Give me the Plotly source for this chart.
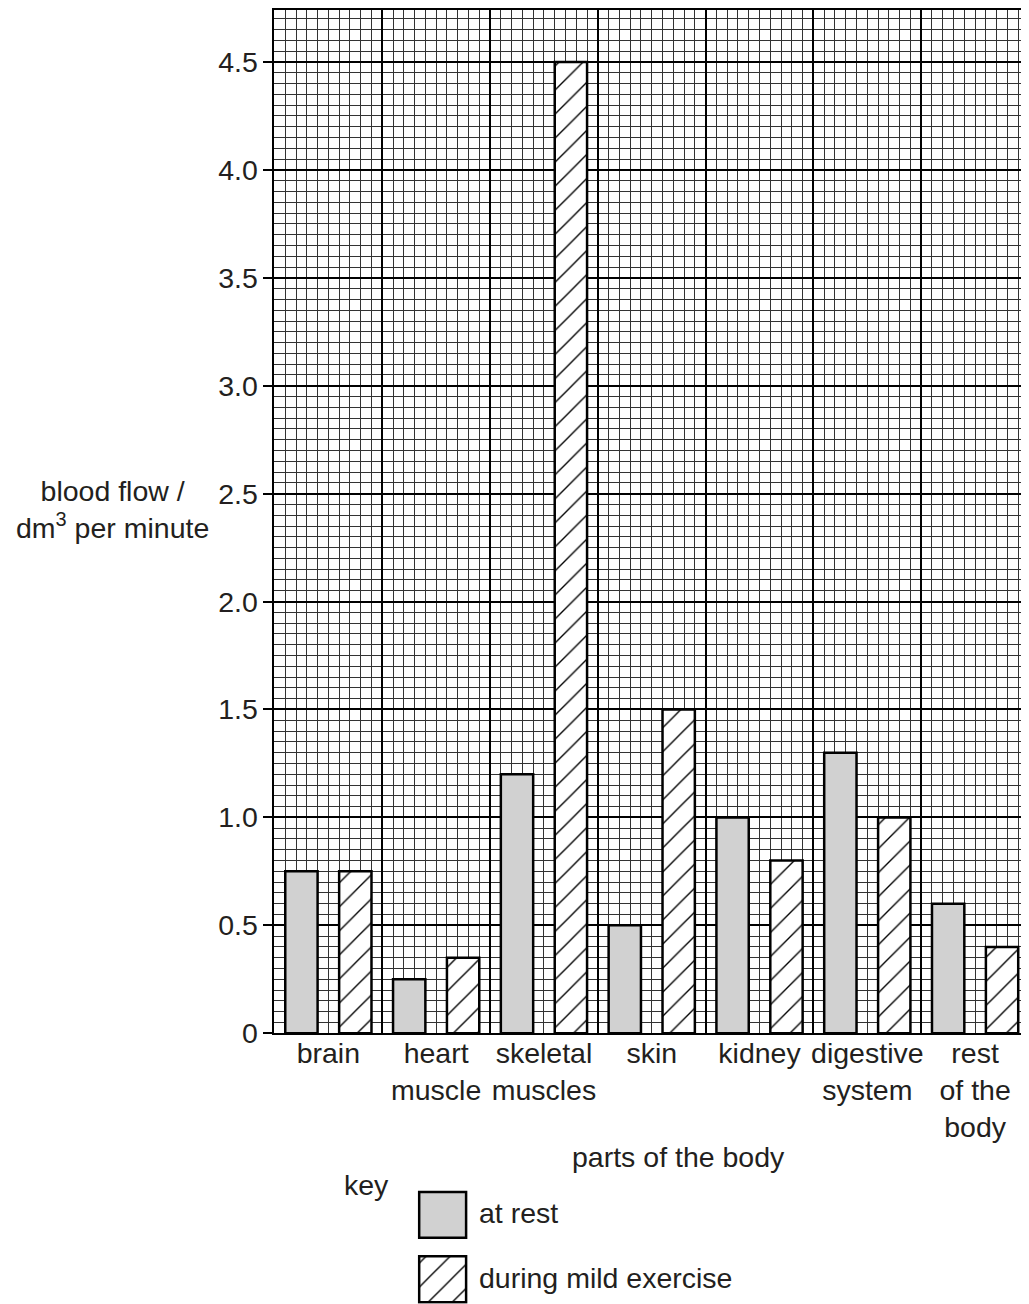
import numpy as np
import plotly.graph_objects as go

# ---- data ----
categories = ["brain", "heart<br>muscle", "skeletal<br>muscles", "skin",
              "kidney", "digestive<br>system", "rest<br>of the<br>body"]
at_rest = [0.75, 0.25, 1.2, 0.5, 1.0, 1.3, 0.6]
mild_exercise = [0.75, 0.35, 4.5, 1.5, 0.8, 1.0, 0.4]
series_names = ["at rest", "during mild exercise"]

# page placement of the figure inside the photographed window
OX, OY, SY = 6, 8, 0.988
W, H = 1023, 1312
FONT = dict(family="Liberation Sans, Arial, Helvetica, sans-serif", size=28.5, color="#231f20")
GRAY = "#d1d1d1"
HATCH = dict(shape="/", size=17, solidity=0.08, fgcolor="black",
             bgcolor="white", fillmode="replace")


def px_x(p):
    return min(1.0, max(0.0, (p - OX) / W))


def px_y(p):
    return min(1.0, max(0.0, 1 - ((p - OY) / SY) / H))


idx = np.arange(len(categories))
fig = go.Figure()

fig.add_trace(go.Bar(
    x=idx + 0.25, y=at_rest, width=0.3, name=series_names[0],
    marker=dict(color=GRAY, line=dict(color="black", width=2.5)),
    xaxis="x", yaxis="y", showlegend=False, hoverinfo="skip"))
fig.add_trace(go.Bar(
    x=idx + 0.75, y=mild_exercise, width=0.3, name=series_names[1],
    marker=dict(color="white", line=dict(color="black", width=2.5), pattern=HATCH),
    xaxis="x2", yaxis="y", showlegend=False, hoverinfo="skip"))

# key (legend) drawn as a small bar subplot
fig.add_trace(go.Bar(
    y=[1], x=[1], orientation="h", width=0.713,
    marker=dict(color=GRAY, line=dict(color="black", width=2.5)),
    xaxis="x3", yaxis="y3", showlegend=False, hoverinfo="skip"))
fig.add_trace(go.Bar(
    y=[0], x=[1], orientation="h", width=0.713,
    marker=dict(color="white", line=dict(color="black", width=2.5), pattern=HATCH),
    xaxis="x3", yaxis="y3", showlegend=False, hoverinfo="skip"))

ncat = len(categories)
fig.update_layout(
    width=W, height=H,
    margin=dict(l=0, r=0, t=0, b=0),
    paper_bgcolor="white", plot_bgcolor="white",
    font=FONT,
    barmode="overlay",
    showlegend=False,
    xaxis=dict(
        domain=[px_x(273), 1], range=[0, ncat], anchor="y",
        tickmode="linear", tick0=0, dtick=1,
        showticklabels=False, ticks="",
        showgrid=True, gridcolor="black", gridwidth=2,
        minor=dict(tickmode="linear", tick0=0, dtick=0.1, showgrid=True,
                   gridcolor="#333333", gridwidth=1, ticks=""),
        showline=True, linecolor="black", linewidth=2, mirror=True,
        zeroline=False, fixedrange=True),
    xaxis2=dict(
        overlaying="x", anchor="y", side="bottom", range=[0, ncat],
        tickmode="array", tickvals=list(idx + 0.5), ticktext=categories,
        ticks="", showgrid=False, showline=False, zeroline=False,
        tickfont=FONT, fixedrange=True),
    yaxis=dict(
        domain=[px_y(1033), 1], range=[0, 4.741], anchor="x",
        tickmode="linear", tick0=0, dtick=0.5, tickformat=".1f",
        labelalias={"0.0": "0"},
        ticks="outside", ticklen=9, tickwidth=2, tickcolor="black",
        showgrid=True, gridcolor="black", gridwidth=2,
        minor=dict(tickmode="linear", tick0=0, dtick=0.05, showgrid=True,
                   gridcolor="#333333", gridwidth=1, ticks=""),
        showline=True, linecolor="black", linewidth=2, mirror=True,
        zeroline=False, tickfont=FONT, fixedrange=True),
    xaxis3=dict(domain=[px_x(405), px_x(480)], range=[-13 / 47, 1 + 15 / 47],
                anchor="y3", visible=False, fixedrange=True),
    yaxis3=dict(domain=[px_y(1304), px_y(1180)], range=[-24.5 / 64.5, 1 + 35 / 64.5],
                anchor="x3", visible=False, fixedrange=True),
)

annotations = [
    dict(text="blood flow /<br>dm<sup>3</sup> per minute", x=px_x(111), y=px_y(508),
         xanchor="center", yanchor="middle", align="center"),
    dict(text="parts of the body", x=px_x(678), y=px_y(1157),
         xanchor="center", yanchor="middle"),
    dict(text="key", x=px_x(365), y=px_y(1185), xanchor="center", yanchor="middle"),
    dict(text=series_names[0], x=px_x(476), y=px_y(1213), xanchor="left", yanchor="middle"),
    dict(text=series_names[1], x=px_x(476), y=px_y(1278), xanchor="left", yanchor="middle"),
]
for a in annotations:
    fig.add_annotation(xref="paper", yref="paper", showarrow=False, font=FONT, **a)

fig.write_html("out.html")
